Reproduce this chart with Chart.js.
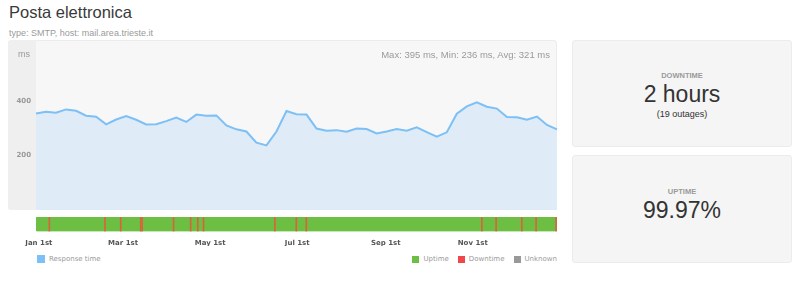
<!DOCTYPE html>
<html>
<head>
<meta charset="utf-8">
<script src="https://cdn.jsdelivr.net/npm/chart.js@4.4.1/dist/chart.umd.min.js"></script>
<style>
    body {
        margin: 0;
        width: 800px;
        height: 300px;
        position: relative;
        overflow: hidden;
        background: #ffffff;
        font-family: "Liberation Sans", Arial, sans-serif;
    }
    .title { position: absolute; left: 9px; top: 3px; font-size: 16.5px; color: #3a3a3a; }
    .subtitle { position: absolute; left: 9px; top: 28px; font-size: 9px; color: #9a9a9a; }
    .panel {
        position: absolute; left: 8px; top: 40px; width: 549px; height: 170px;
        background: #f7f7f7; border: 1px solid #ececec; border-radius: 3px; box-sizing: border-box;
    }
    .axisCol {
        position: absolute; left: 8px; top: 40px; width: 28px; height: 170px;
        background: #efefef; border-radius: 3px 0 0 3px;
    }
    #lineChart { position: absolute; left: 8px; top: 40px; }
    #barChart { position: absolute; left: 8px; top: 216px; }
    .unit { position: absolute; left: 18px; top: 49px; font-size: 9px; color: #9a9a9a; }
    .stats { position: absolute; right: 250px; top: 49px; font-size: 9.5px; color: #9a9a9a; }
    .legend {
        position: absolute; top: 255px; font-family: "DejaVu Sans", sans-serif;
        font-size: 7px; color: #9a9a9a; display: flex; align-items: center;
    }
    .legend span.box { display: inline-block; width: 7px; height: 7px; margin-right: 4px; }
    .legend span.item { display: flex; align-items: center; margin-left: 9px; }
    .card {
        position: absolute; left: 572px; width: 220px; height: 107px;
        background: #f5f5f5; border: 1px solid #ececec; border-radius: 3px; box-sizing: border-box;
        text-align: center; color: #333;
    }
    .card .label { position: absolute; width: 100%; font-size: 7.5px; font-weight: bold; color: #9a9a9a; }
    .card .big { position: absolute; width: 100%; font-size: 23px; color: #333; }
    .card .small { position: absolute; width: 100%; font-size: 9px; color: #333; }
</style>
</head>
<body>

<div class="title">Posta elettronica</div>
<div class="subtitle">type: SMTP, host: mail.area.trieste.it</div>

<div class="panel"></div>
<div class="axisCol"></div>
<canvas id="lineChart" width="550" height="170"></canvas>
<div class="unit">ms</div>
<div class="stats">Max: 395 ms, Min: 236 ms, Avg: 321 ms</div>

<canvas id="barChart" width="550" height="30"></canvas>

<div class="legend" style="left:37px;">
    <span class="box" style="background:#7cc0f5; width:8px; height:8px;"></span>Response time
</div>
<div class="legend" style="right:243px;">
    <span class="item"><span class="box" style="background:#6cbf43;"></span>Uptime</span>
    <span class="item"><span class="box" style="background:#f0474a;"></span>Downtime</span>
    <span class="item"><span class="box" style="background:#999999;"></span>Unknown</span>
</div>

<div class="card" style="top:40px;">
    <div class="label" style="top:30px;">DOWNTIME</div>
    <div class="big" style="top:40px;">2 hours</div>
    <div class="small" style="top:68px;">(19 outages)</div>
</div>
<div class="card" style="top:155px; height:108px;">
    <div class="label" style="top:31px;">UPTIME</div>
    <div class="big" style="top:41px;">99.97%</div>
</div>

<script>
// weekly average response time (ms)
const responseTime = [354, 360, 357, 369, 364, 346, 342, 314, 332, 345,
                      331, 314, 315, 326, 339, 323, 350, 346, 347, 310,
                      296, 288, 247, 237, 288, 363, 351, 350, 299, 291,
                      293, 287, 299, 297, 281, 288, 297, 291, 303, 286,
                      269, 285, 353, 380, 395, 379, 372, 341, 340, 331,
                      343, 312, 296];
const weekLabels = responseTime.map((v, i) => "W" + (i + 1));
const yTicks = [200, 400];

// uptime bar: days counted from Jan 1st
const monthTicks = [0, 59, 120, 181, 243, 304];
const monthLabels = ["Jan 1st", "Mar 1st", "May 1st", "Jul 1st", "Sep 1st", "Nov 1st"];
const outageDays = [7, 46, 57, 71, 72, 94, 106, 111, 115, 165, 180, 187, 310, 320, 338, 348, 362];
const yearRange = [-2, 363];

Chart.defaults.animation = false;
Chart.defaults.responsive = false;

new Chart(document.getElementById("lineChart").getContext("2d"), {
    type: "line",
    data: {
        labels: weekLabels,
        datasets: [{
            label: "Response time",
            data: responseTime,
            borderColor: "#7cc0f5",
            backgroundColor: "#dfebf6",
            borderWidth: 2,
            pointRadius: 0,
            tension: 0,
            fill: "origin",
        }],
    },
    options: {
        layout: { padding: { top: 1, right: 1, bottom: 0, left: 0 } },
        plugins: { legend: { display: false }, tooltip: { enabled: false } },
        scales: {
            x: { display: false, offset: false },
            y: {
                min: 0,
                max: 620,
                grid: { display: false, drawTicks: false },
                border: { display: false },
                afterFit: (scale) => {
                    scale.width = 28;
                    scale.paddingTop = 0;
                    scale.paddingBottom = 0;
                },
                afterBuildTicks: (scale) => { scale.ticks = yTicks.map(v => ({ value: v })); },
                ticks: {
                    padding: 5,
                    color: "#999999",
                    font: { family: "DejaVu Sans", size: 7, weight: "bold" },
                },
            },
        },
    },
});

//uptime strip, one floating bar for the year and thin ones for outages
const outageSets = outageDays.map(d => ({
    label: "Downtime",
    data: [[d, d + 0.7]],
    backgroundColor: "#d9643c",
    grouped: false,
    order: 0,
    barPercentage: 1,
    categoryPercentage: 1,
}));

new Chart(document.getElementById("barChart").getContext("2d"), {
    type: "bar",
    data: {
        labels: [""],
        datasets: [{
            label: "Uptime",
            data: [yearRange],
            backgroundColor: "#6cbf43",
            borderRadius: 2,
            borderSkipped: false,
            grouped: false,
            order: 1,
            barPercentage: 1,
            categoryPercentage: 1,
        }, ...outageSets],
    },
    options: {
        indexAxis: "y",
        layout: { padding: { top: 1, right: 1, bottom: 0, left: 28 } },
        plugins: { legend: { display: false }, tooltip: { enabled: false } },
        scales: {
            y: { display: false },
            x: {
                type: "linear",
                min: yearRange[0],
                max: yearRange[1],
                grid: { display: false, drawTicks: false },
                border: { display: false },
                afterBuildTicks: (scale) => { scale.ticks = monthTicks.map(v => ({ value: v })); },
                ticks: {
                    padding: 7,
                    maxRotation: 0,
                    autoSkip: false,
                    color: "#555555",
                    font: { family: "DejaVu Sans", size: 7, weight: "bold" },
                    callback: (value) => monthLabels[monthTicks.indexOf(value)],
                },
            },
        },
    },
});
</script>
</body>
</html>
